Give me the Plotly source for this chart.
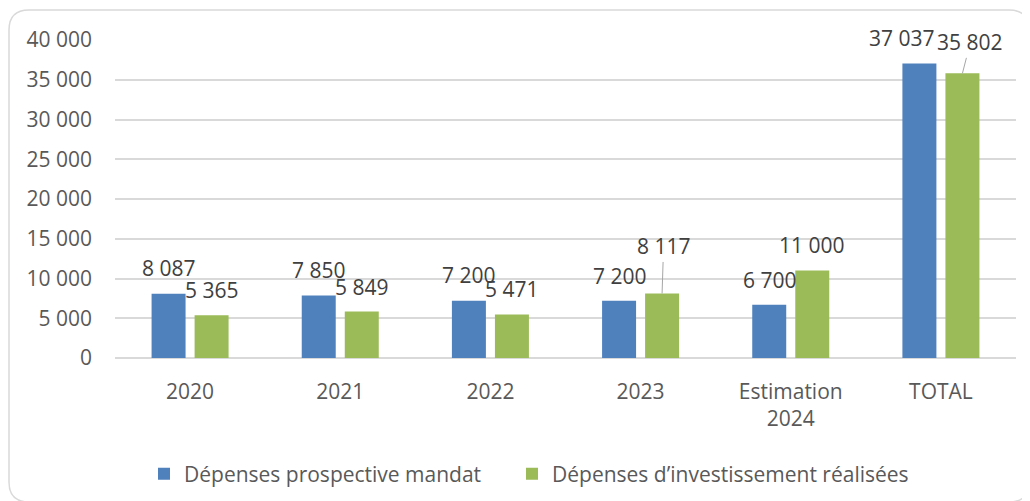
import plotly.graph_objects as go

categories = ["2020", "2021", "2022", "2023", "Estimation<br>2024", "TOTAL"]
prospective = [8087, 7850, 7200, 7200, 6700, 37037]
realisees = [5365, 5849, 5471, 8117, 11000, 35802]
series_names = ["Dépenses prospective mandat", "Dépenses d’investissement réalisées"]
y_ticks = [0, 5000, 10000, 15000, 20000, 25000, 30000, 35000, 40000]

# label placement (styling): (dx, dy px, leader line)
blue_label_off = [(0, 26, False), (0, 26, False), (0, 26, False), (0, 25, False), (0, 25, False), (-17, 26, False)]
green_label_off = [(0, 25, False), (0, 25, False), (0, 26, False), (1.5, 47, True), (0, 26, False), (8, 31, True)]

BLUE = "#4f81bd"
GREEN = "#9bbb59"
FONT = "Open Sans"
# page body has an 8px margin, so the figure is drawn 8px smaller and offset
OFF = 8
W, H = 1030 - OFF, 501 - OFF
ML, MR, MT, MB = 115 - OFF, 14, 40 - OFF, 143

def fmt(v):
    return f"{v:,}".replace(",", " ")

fig = go.Figure()
fig.add_trace(go.Bar(x=categories, y=prospective, name=series_names[0], legend="legend",
                     marker=dict(color=BLUE, line=dict(width=0))))
fig.add_trace(go.Bar(x=categories, y=realisees, name=series_names[1], legend="legend2",
                     marker=dict(color=GREEN, line=dict(width=0))))

half = 21.5
annotations = []
for vals, offs, sx in ((prospective, blue_label_off, -half), (realisees, green_label_off, half)):
    for i, (v, (dx, dy, leader)) in enumerate(zip(vals, offs)):
        # category axis: position annotations by category index
        a = dict(x=i, y=v, xref="x", yref="y", text=fmt(v),
                 font=dict(family=FONT, size=21, color="#404040"), xshift=sx)
        if leader:
            a.update(showarrow=True, arrowhead=0, arrowwidth=1, arrowcolor="#a6a6a6",
                     ax=dx, ay=-dy, axref="pixel", ayref="pixel", standoff=0)
        else:
            a.update(showarrow=False, xshift=sx + dx, yshift=dy, yanchor="middle")
        annotations.append(a)

# rounded chart border in paper coordinates (pixel -> paper)
pw, ph = W - ML - MR, H - MT - MB
def px(x):
    return (x - OFF - ML) / pw
def py(y):
    return (H - MB - (y - OFF)) / ph
x0, x1, y0, y1, r = 9, 1029, 10, 502, 20
path = (f"M{px(x0 + r)},{py(y0)} L{px(x1 - r)},{py(y0)} Q{px(x1)},{py(y0)} {px(x1)},{py(y0 + r)} "
        f"L{px(x1)},{py(y1 - r)} Q{px(x1)},{py(y1)} {px(x1 - r)},{py(y1)} "
        f"L{px(x0 + r)},{py(y1)} Q{px(x0)},{py(y1)} {px(x0)},{py(y1 - r)} "
        f"L{px(x0)},{py(y0 + r)} Q{px(x0)},{py(y0)} {px(x0 + r)},{py(y0)} Z")

legend_common = dict(orientation="h", xanchor="left", yanchor="middle", y=py(474),
                     font=dict(family=FONT, size=21, color="#595959"),
                     itemclick=False, bgcolor="rgba(0,0,0,0)")

fig.update_layout(
    width=W, height=H,
    margin=dict(l=ML, r=MR, t=MT, b=MB, autoexpand=False),
    paper_bgcolor="white", plot_bgcolor="white",
    barmode="group", bargap=0.427, bargroupgap=0.21,
    separators=", ",
    font=dict(family=FONT, size=21, color="#595959"),
    showlegend=True,
    legend=dict(legend_common, x=px(144)),
    legend2=dict(legend_common, x=px(512)),
    annotations=annotations,
    shapes=[dict(type="path", xref="paper", yref="paper", path=path,
                 line=dict(color="#d9d9d9", width=1.5), layer="below")],
    xaxis=dict(type="category", categoryorder="array", categoryarray=categories,
               range=[-0.5, len(categories) - 0.5], autorange=False,
               showgrid=False, showline=False, ticks="",
               tickfont=dict(size=21, color="#595959"), ticklabelstandoff=19),
    yaxis=dict(range=[0, 40000], autorange=False, tickvals=y_ticks, tickformat=",d", showgrid=True,
               gridcolor="#d9d9d9", gridwidth=1.5, zeroline=True, zerolinecolor="#d9d9d9",
               zerolinewidth=1.5, showline=False, ticks="", ticklabelstandoff=22,
               tickfont=dict(size=21, color="#595959")),
)

fig.write_html("out.html")
